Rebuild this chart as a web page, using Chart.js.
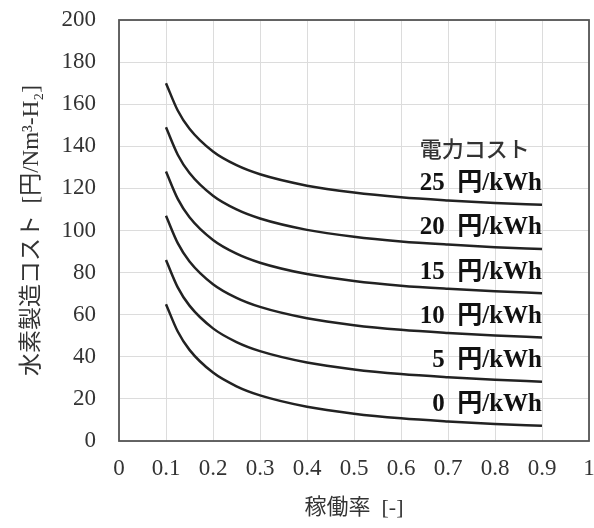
<!DOCTYPE html>
<html>
<head>
<meta charset="utf-8">
<script src="https://cdn.jsdelivr.net/npm/chart.js@4"></script>
<style>
  html, body { margin: 0; padding: 0; background: #fff; }
  #wrap { width: 594px; height: 528px; }
</style>
</head>
<body>
<div id="wrap"><canvas id="myChart"></canvas></div>
<script>
// 稼働率
const rates = [0.1, 0.125, 0.15, 0.2, 0.25, 0.3, 0.4, 0.5, 0.6, 0.7, 0.8, 0.9];
// 水素製造コスト per 電力コスト
const cost0 = [65, 52, 43.3, 32.5, 26, 21.7, 16.3, 13, 10.8, 9.3, 8.1, 7.2];
const cost5 = [86, 73, 64.3, 53.5, 47, 42.7, 37.3, 34, 31.8, 30.3, 29.1, 28.2];
const cost10 = [107, 94, 85.3, 74.5, 68, 63.7, 58.3, 55, 52.8, 51.3, 50.1, 49.2];
const cost15 = [128, 115, 106.3, 95.5, 89, 84.7, 79.3, 76, 73.8, 72.3, 71.1, 70.2];
const cost20 = [149, 136, 127.3, 116.5, 110, 105.7, 100.3, 97, 94.8, 93.3, 92.1, 91.2];
const cost25 = [170, 157, 148.3, 137.5, 131, 126.7, 121.3, 118, 115.8, 114.3, 113.1, 112.2];
const seriesLabels = ['0  円/kWh', '5  円/kWh', '10  円/kWh', '15  円/kWh', '20  円/kWh', '25  円/kWh'];
const headerLabel = '電力コスト';

const serif = "'Liberation Serif', 'Noto Sans CJK JP'";

const series = [cost0, cost5, cost10, cost15, cost20, cost25];
const datasets = series.map((vals, i) => ({
    label: seriesLabels[i],
    data: vals.map((v, j) => ({ x: rates[j], y: v })),
    borderColor: '#222222',
    borderWidth: 2.5,
    pointRadius: 0,
    tension: 0.4,
    cubicInterpolationMode: 'monotone',
    fill: false,
}));

// 外枠と右側のラベル
const framePlugin = {
    id: 'frame',
    afterDatasetsDraw(chart) {
        const { ctx, chartArea: a, scales } = chart;
        ctx.save();
        ctx.strokeStyle = '#555555';
        ctx.lineWidth = 1.8;
        ctx.strokeRect(a.left, a.top, a.right - a.left, a.bottom - a.top);

        const xr = scales.x.getPixelForValue(rates[rates.length - 1]);
        ctx.textAlign = 'right';
        ctx.textBaseline = 'middle';
        ctx.fillStyle = '#111111';
        ctx.font = "bold 25px " + serif;
        let leftEdge = xr;
        series.forEach((vals, i) => {
            const y = scales.y.getPixelForValue(vals[vals.length - 1]) - 21;
            ctx.fillText(seriesLabels[i], xr, y);
            if (i === series.length - 1) leftEdge = xr - ctx.measureText(seriesLabels[i]).width;
        });
        const top = series[series.length - 1];
        const hy = scales.y.getPixelForValue(top[top.length - 1]) - 56;
        ctx.font = "500 22px 'Noto Sans CJK JP'";
        ctx.fillStyle = '#333333';
        ctx.textAlign = 'left';
        ctx.fillText(headerLabel, leftEdge, hy);
        ctx.restore();
    }
};

const myCanvas = document.getElementById('myChart').getContext('2d');

const myChart = new Chart(myCanvas, {
    type: 'line',
    data: { datasets },
    options: {
        responsive: true,
        maintainAspectRatio: false,
        animation: false,
        layout: { padding: { top: 20, right: 5, left: 0, bottom: 0 } },
        plugins: {
            legend: { display: false },
            tooltip: { enabled: false },
        },
        scales: {
            x: {
                type: 'linear',
                min: 0,
                max: 1,
                ticks: {
                    stepSize: 0.1,
                    padding: 14,
                    color: '#333333',
                    font: { size: 23, family: serif },
                    callback: v => Number(v.toFixed(1)).toString(),
                },
                grid: { color: '#dcdcdc', lineWidth: 1, drawTicks: false },
                border: { display: false },
                title: {
                    display: true,
                    text: '稼働率  [-]',
                    color: '#333333',
                    font: { size: 22, family: serif },
                    padding: { top: 0, bottom: 7 },
                },
                afterFit(scale) {
                    scale.height = 87;
                    scale.paddingLeft = 0;
                    scale.paddingRight = 0;
                },
            },
            y: {
                min: 0,
                max: 200,
                ticks: {
                    stepSize: 20,
                    padding: 23,
                    color: '#333333',
                    font: { size: 23, family: serif },
                },
                grid: { color: '#dcdcdc', lineWidth: 1, drawTicks: false },
                border: { display: false },
                title: {
                    display: true,
                    text: '水素製造コスト  [円/Nm³-H₂]',
                    color: '#333333',
                    font: { size: 23, family: serif },
                    padding: { top: 18, bottom: 0 },
                },
                afterFit(scale) {
                    scale.width = 119;
                    scale.paddingTop = 0;
                    scale.paddingBottom = 0;
                },
            },
        },
    },
    plugins: [framePlugin],
});
</script>
</body>
</html>
